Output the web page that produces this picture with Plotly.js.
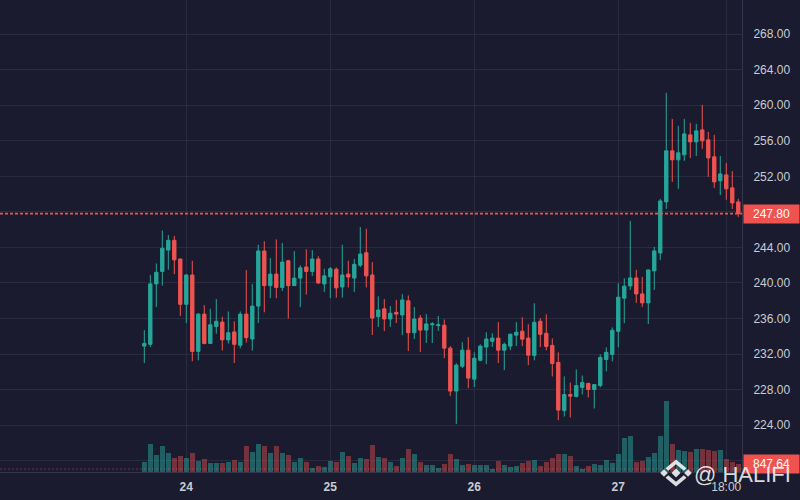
<!DOCTYPE html>
<html><head><meta charset="utf-8">
<script src="https://cdn.plot.ly/plotly-3.0.1.min.js"></script>
<style>html,body{margin:0;padding:0;background:#1a1b2e;}#chart{width:800px;height:500px;}</style>
</head><body><div id="chart"></div>
<script>
const openP = [232.9,233.1,239.9,241.3,243.7,244.8,242.7,237.6,240.9,232.3,
236.5,233.2,235.1,235.6,233.6,234.5,233.0,236.5,233.7,237.4,
243.6,239.7,241.0,239.5,242.5,239.7,240.55,241.8,241.3,242.7,
239.9,240.7,241.55,239.55,241.0,240.55,242.0,243.4,240.9,236.2,
237.1,235.95,236.7,236.4,238.0,234.4,236.06,234.7,235.3,235.2,
235.25,232.67,227.84,230.64,232.44,229.18,231.3,232.8,233.45,233.8,
232.44,232.9,234.13,234.58,233.8,231.86,235.7,234.34,232.98,231.07,
225.65,227.46,227.23,228.25,228.7,228.02,228.47,231.4,231.97,234.56,
238.29,239.67,240.57,238.77,237.76,241.36,243.38,249.12,254.86,253.85,
254.41,256.66,255.87,257.22,256.1,254.19,251.49,252.16,250.7,249.12];
const highP = [234.7,240.9,242.2,245.9,245.4,245.3,242.7,241.0,242.5,236.6,
237.5,237.1,238.2,236.2,236.8,235.7,236.8,241.45,239.9,244.3,
244.7,242.8,244.9,244.5,242.6,243.6,242.0,243.8,243.7,243.0,
241.6,241.8,241.75,244.3,242.5,242.7,246.3,246.1,242.35,238.5,
238.2,237.4,238.1,238.75,238.6,237.3,236.4,236.5,235.6,236.3,
235.9,232.9,230.98,233.34,233.9,232.2,233.1,234.46,234.35,235.6,
233.3,234.3,235.6,236.15,235.36,237.72,236.03,236.48,233.77,232.2,
229.49,228.8,230.28,229.6,228.8,228.6,231.97,232.76,235.0,239.98,
240.54,246.98,241.47,240.68,241.5,244.06,249.46,261.39,258.46,257.67,
258.46,258.01,257.9,260.04,257.0,256.66,254.3,253.5,252.6,249.46];
const lowP = [231.0,232.8,237.3,239.7,241.5,241.0,236.3,235.5,231.2,231.3,
233.1,233.2,234.3,232.4,233.2,231.0,232.65,233.3,232.4,235.5,
236.7,238.3,238.3,239.1,236.0,239.7,237.3,238.7,240.8,239.9,
239.0,238.3,238.35,238.35,239.5,239.0,241.8,239.5,234.15,235.05,
234.6,235.05,235.5,234.15,232.35,233.7,232.24,233.25,233.25,234.6,
231.55,227.27,224.13,230.42,228.17,228.3,231.2,230.87,232.8,231.0,
230.2,232.44,232.9,232.9,230.76,231.3,232.8,232.42,229.49,224.56,
224.98,224.87,227.12,227.46,227.12,225.88,228.25,230.05,231.18,232.76,
235.47,239.22,237.76,237.31,235.39,239.22,242.6,248.33,251.37,250.59,
253.74,254.07,254.3,255.09,251.94,250.7,249.9,249.35,248.33,247.43];
const closeP = [233.2,239.9,241.2,243.9,244.8,242.6,237.6,240.9,232.3,236.5,
233.2,235.3,235.7,233.6,234.4,233.1,236.5,233.85,237.4,243.6,
239.7,241.0,239.5,242.35,239.7,240.55,241.7,241.3,242.7,240.0,
240.8,241.6,239.45,240.9,240.67,242.1,243.25,240.8,236.06,236.96,
235.95,236.6,236.5,238.1,234.4,235.95,234.7,235.4,235.4,235.3,
232.67,227.84,230.76,232.44,229.3,231.54,232.9,233.7,233.8,232.44,
233.1,234.24,234.46,233.68,231.88,235.58,234.23,232.87,230.95,225.7,
227.46,227.27,228.47,228.8,228.02,228.58,231.63,232.2,234.68,238.4,
239.64,240.57,238.77,237.76,241.47,243.61,249.23,254.86,253.85,254.64,
256.77,255.87,257.11,255.99,254.07,251.37,252.27,250.59,249.0,247.8];
const volume = [1069,3059,1843,2837,2064,1511,1732,1511,2064,1179,
1400,958,958,958,1069,1290,1069,2837,2174,3059,
2837,2064,2837,2064,1843,1069,1511,1069,405,626,
516,1179,1069,2174,1732,958,1511,1400,2948,1621,
1511,1069,626,1511,2506,1953,1069,737,737,405,
848,1953,1400,737,848,737,737,737,295,1179,
737,516,626,958,1179,1290,626,1069,1511,1953,
1953,1732,626,295,626,848,737,1290,958,1953,
3722,3943,1069,1179,1621,2064,3943,7812,3059,2395,
2285,2174,2506,2506,2395,2285,2395,1400,1069,847.64];
const priceTicks = [220,224,228,232,236,240,244,248,252,256,260,264,268];
const priceTickLabels = ['','224.00','228.00','232.00','236.00','240.00','244.00','','252.00','256.00','260.00','264.00','268.00'];
const timeTickLabels = ['<b>24</b>','<b>25</b>','<b>26</b>','<b>27</b>','18:00'];
const lastPrice = 247.80;
const lastVolume = 847.64;
const watermarkText = '@ HALIFI';

const H = 3600000;
const start = Date.UTC(2024,0,23,17);
const day24 = Date.UTC(2024,0,24,0);
const times = openP.map((_, i) => start + i * H);
const tickVals = [Date.UTC(2024,0,24), Date.UTC(2024,0,25), Date.UTC(2024,0,26), Date.UTC(2024,0,27), Date.UTC(2024,0,27,18)];

const BG = '#1a1b2e', GRID = '#2a2b3e', UP = '#26a69a', DN = '#ef5350';
const volColors = openP.map((o, i) => closeP[i] >= o ? 'rgba(38,166,154,0.5)' : 'rgba(239,83,80,0.42)');

const PW = 742, PH = 472;
const px = x => x / PW, py = y => 1 - y / PH;
function poly(cx, cy, pts) {
  return 'M ' + pts.map(p => px(cx + p[0]) + ',' + py(cy + p[1])).join(' L ') + ' Z';
}
const cx = 676, cy = 473;
const logoParts = [
  [[0,-4.5],[4.5,0],[0,4.5],[-4.5,0]],
  [[-12,-3.8],[-8.2,0],[-12,3.8],[-15.8,0]],
  [[12,-3.8],[15.8,0],[12,3.8],[8.2,0]],
  [[-10.5,-4.8],[0,-13.5],[10.5,-4.8],[7.8,-2.3],[0,-8.8],[-7.8,-2.3]],
  [[-10.5,4.8],[0,13.5],[10.5,4.8],[7.8,2.3],[0,8.8],[-7.8,2.3]]
];
const shapes = [
  {type:'line', xref:'paper', x0:0, x1:1, yref:'y', y0:lastPrice, y1:lastPrice,
   line:{color:DN, width:1.6, dash:'3px,2px'}},
  {type:'line', xref:'paper', x0:0, x1:1, yref:'paper', y0:py(469), y1:py(469),
   line:{color:'rgba(239,83,80,0.45)', width:1, dash:'2px,2px'}}
].concat(logoParts.map(p => ({type:'path', xref:'paper', yref:'paper', path:poly(cx, cy, p),
   fillcolor:'rgba(255,255,255,0.85)', line:{width:0}, layer:'above'})));

const traces = [
  {type:'candlestick', x:times, open:openP, high:highP, low:lowP, close:closeP,
   increasing:{line:{color:UP, width:1}, fillcolor:UP},
   decreasing:{line:{color:DN, width:1}, fillcolor:DN},
   whiskerwidth:0, hoverinfo:'none', xaxis:'x', yaxis:'y'},
  {type:'bar', x:times, y:volume, width:H*0.78, marker:{color:volColors, line:{width:0}},
   hoverinfo:'none', xaxis:'x', yaxis:'y2'}
];

const font = {family:'"Liberation Sans", Arial, sans-serif', size:12, color:'#c9ccd4'};
const layout = {
  width:800, height:500, margin:{l:0, r:58, t:0, b:28},
  paper_bgcolor:BG, plot_bgcolor:BG, showlegend:false, font:font,
  hovermode:false, bargap:0, boxgap:0.2,
  xaxis:{type:'date', range:[day24 - 31.05*H, day24 + 92.62*H], tickvals:tickVals, ticktext:timeTickLabels,
    gridcolor:GRID, showgrid:true, zeroline:false, showline:true, linecolor:'#34354a', ticks:'',
    ticklabelstandoff:4,
    rangeslider:{visible:false}, tickfont:{size:12, color:'#c9ccd4'}, fixedrange:true},
  yaxis:{side:'right', range:[218.74, 271.83], tickvals:priceTicks, ticktext:priceTickLabels,
    gridcolor:GRID, zeroline:false, showline:true, linecolor:'#34354a', ticks:'',
    ticklabelstandoff:8, tickfont:{size:12, color:'#c9ccd4'}, fixedrange:true},
  yaxis2:{overlaying:'y', range:[0, 52180], visible:false, fixedrange:true},
  shapes:shapes,
  annotations:[
    {xref:'paper', x:1, xanchor:'left', yref:'y', y:lastPrice, yanchor:'middle', text:lastPrice.toFixed(2),
     showarrow:false, bgcolor:DN, font:{color:'#ffffff', size:12}, width:53, height:16, align:'center', xshift:1},
    {xref:'paper', x:1, xanchor:'left', yref:'y2', y:lastVolume, yanchor:'middle', text:lastVolume.toFixed(2),
     showarrow:false, bgcolor:DN, font:{color:'#ffffff', size:12}, width:53, height:16, align:'center', xshift:1},
    {xref:'paper', x:px(692), xanchor:'left', yref:'paper', y:py(474), yanchor:'middle', text:watermarkText,
     showarrow:false, font:{color:'rgba(255,255,255,0.85)', size:22, family:'"Liberation Sans", Arial, sans-serif'}}
  ]
};
Plotly.newPlot('chart', traces, layout, {displayModeBar:false, staticPlot:true});
</script>
</body></html>
